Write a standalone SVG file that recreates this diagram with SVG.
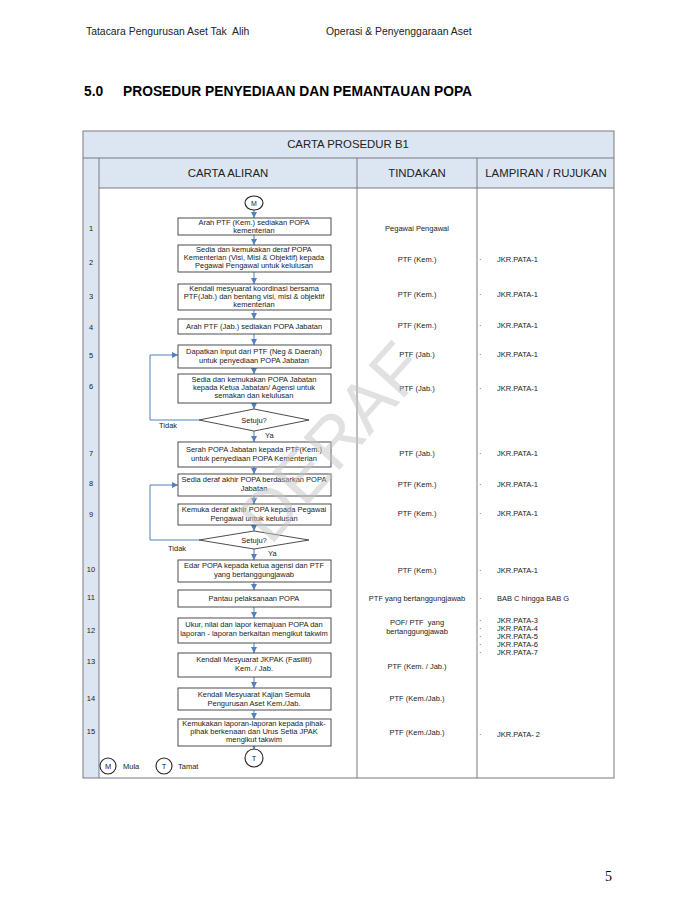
<svg xmlns="http://www.w3.org/2000/svg" width="695" height="899" viewBox="0 0 695 899">
<defs>
<style>
text{font-family:"Liberation Sans",Arial,sans-serif;fill:#222}
.hdr{font-size:10.4px}
.ttl{font-size:13.8px;font-weight:bold;fill:#000}
.th{font-size:11.4px;text-anchor:middle}
.bx{fill:#fff;stroke:#3a3a3a;stroke-width:0.9}
.bt{font-size:7.5px;text-anchor:middle}
.num{font-size:7.5px;text-anchor:middle}
.col{font-size:7.5px}
.colc{font-size:7.5px;text-anchor:middle}
.grid{stroke:#7a7a7a;stroke-width:1;fill:none}
.fillb{fill:#dce6f2}
.con{stroke:#4f81bd;stroke-width:1;fill:none;marker-end:url(#ah)}
.lbl{font-size:7.5px}
</style>
<marker id="ah" viewBox="0 0 10 10" refX="10" refY="5" markerWidth="6" markerHeight="6" orient="auto" markerUnits="userSpaceOnUse">
<path d="M0,0 L10,5 L0,10 z" fill="#4f81bd"/>
</marker>
</defs>
<rect width="695" height="899" fill="#fff"/>
<text class="hdr" x="86" y="35" xml:space="preserve">Tatacara Pengurusan Aset Tak  Alih</text>
<text class="hdr" x="326" y="35">Operasi &amp; Penyenggaraan Aset</text>
<text class="ttl" x="84" y="96">5.0</text>
<text class="ttl" x="123" y="96">PROSEDUR PENYEDIAAN DAN PEMANTAUAN POPA</text>

<g id="table">
<rect class="fillb" x="83" y="131" width="531" height="57"/>
<rect class="fillb" x="83" y="188" width="16" height="590"/>
<rect class="grid" x="83" y="131" width="531" height="647"/>
<line class="grid" x1="83" y1="158" x2="614" y2="158"/>
<line class="grid" x1="99" y1="188" x2="614" y2="188"/>
<line class="grid" x1="99" y1="158" x2="99" y2="778"/>
<line class="grid" x1="357" y1="158" x2="357" y2="778"/>
<line class="grid" x1="477" y1="158" x2="477" y2="778"/>
<text class="th" x="348" y="148">CARTA PROSEDUR B1</text>
<text class="th" x="228" y="177">CARTA ALIRAN</text>
<text class="th" x="417" y="177">TINDAKAN</text>
<text class="th" x="546" y="177">LAMPIRAN / RUJUKAN</text>
</g>

<g id="numbers">
<text class="num" x="91" y="231">1</text>
<text class="num" x="91" y="265">2</text>
<text class="num" x="91" y="299">3</text>
<text class="num" x="91" y="330">4</text>
<text class="num" x="91" y="358">5</text>
<text class="num" x="91" y="389">6</text>
<text class="num" x="91" y="456">7</text>
<text class="num" x="91" y="486">8</text>
<text class="num" x="91" y="517">9</text>
<text class="num" x="91" y="572">10</text>
<text class="num" x="91" y="600">11</text>
<text class="num" x="91" y="633">12</text>
<text class="num" x="91" y="664">13</text>
<text class="num" x="91" y="701">14</text>
<text class="num" x="91" y="734">15</text>
</g>

<g id="connectors">
<line class="con" x1="254" y1="210" x2="254" y2="218"/>
<line class="con" x1="254" y1="235" x2="254" y2="245"/>
<line class="con" x1="254" y1="272" x2="254" y2="284"/>
<line class="con" x1="254" y1="310" x2="254" y2="319"/>
<line class="con" x1="254" y1="334" x2="254" y2="345"/>
<line class="con" x1="254" y1="368" x2="254" y2="374"/>
<line class="con" x1="254" y1="403" x2="254" y2="409"/>
<line class="con" x1="254" y1="431" x2="254" y2="442"/>
<line class="con" x1="254" y1="467" x2="254" y2="474"/>
<line class="con" x1="254" y1="496" x2="254" y2="504"/>
<line class="con" x1="254" y1="525" x2="254" y2="531"/>
<line class="con" x1="254" y1="549" x2="254" y2="560"/>
<line class="con" x1="254" y1="582" x2="254" y2="590"/>
<line class="con" x1="254" y1="607" x2="254" y2="618"/>
<line class="con" x1="254" y1="643" x2="254" y2="653"/>
<line class="con" x1="254" y1="677" x2="254" y2="688"/>
<line class="con" x1="254" y1="710" x2="254" y2="719"/>
<line class="con" x1="254" y1="746" x2="254" y2="749"/>
<polyline class="con" points="199,420 150,420 150,355 178,355"/>
<polyline class="con" points="199,540 150,540 150,485 178,485"/>
<text class="lbl" x="159" y="428">Tidak</text>
<text class="lbl" x="265" y="438">Ya</text>
<text class="lbl" x="168" y="551">Tidak</text>
<text class="lbl" x="268" y="556">Ya</text>
</g>

<g id="M">
<ellipse cx="254" cy="203" rx="9" ry="7" fill="#fff" stroke="#222" stroke-width="1.1"/>
<text class="bt" x="254" y="205.5" style="font-size:7px">M</text>
</g>
<g id="n1"><rect class="bx" x="178" y="218" width="153" height="17"/>
<text class="bt" x="254" y="225">Arah PTF (Kem.) sediakan POPA</text>
<text class="bt" x="254" y="233">kementerian</text></g>
<g id="n2"><rect class="bx" x="178" y="245" width="153" height="27"/>
<text class="bt" x="254" y="252">Sedia dan kemukakan deraf POPA</text>
<text class="bt" x="254" y="260">Kementerian (Visi, Misi &amp; Objektif) kepada</text>
<text class="bt" x="254" y="268">Pegawai Pengawal untuk kelulusan</text></g>
<g id="n3"><rect class="bx" x="178" y="284" width="153" height="26"/>
<text class="bt" x="254" y="291">Kendali mesyuarat koordinasi bersama</text>
<text class="bt" x="254" y="299">PTF(Jab.) dan bentang visi, misi &amp; objektif</text>
<text class="bt" x="254" y="307">kementerian</text></g>
<g id="n4"><rect class="bx" x="178" y="319" width="153" height="15"/>
<text class="bt" x="254" y="329">Arah PTF (Jab.) sediakan POPA Jabatan</text></g>
<g id="n5"><rect class="bx" x="178" y="345" width="153" height="23"/>
<text class="bt" x="254" y="354">Dapatkan input dari PTF (Neg &amp; Daerah)</text>
<text class="bt" x="254" y="363">untuk penyediaan POPA Jabatan</text></g>
<g id="n6"><rect class="bx" x="178" y="374" width="153" height="29"/>
<text class="bt" x="254" y="382">Sedia dan kemukakan POPA Jabatan</text>
<text class="bt" x="254" y="390">kepada Ketua Jabatan/ Agensi untuk</text>
<text class="bt" x="254" y="398">semakan dan kelulusan</text></g>
<g id="d1"><polygon class="bx" points="199,420 254,409 309,420 254,431"/>
<text class="bt" x="254" y="422.5">Setuju?</text></g>
<g id="n7"><rect class="bx" x="178" y="442" width="153" height="25"/>
<text class="bt" x="254" y="452">Serah POPA Jabatan kepada PTF(Kem.)</text>
<text class="bt" x="254" y="461">untuk penyediaan POPA Kementerian</text></g>
<g id="n8"><rect class="bx" x="178" y="474" width="153" height="22"/>
<text class="bt" x="254" y="482">Sedia deraf akhir POPA berdasarkan POPA</text>
<text class="bt" x="254" y="491">Jabatan</text></g>
<g id="n9"><rect class="bx" x="178" y="504" width="153" height="21"/>
<text class="bt" x="254" y="512">Kemuka deraf akhir POPA kepada Pegawai</text>
<text class="bt" x="254" y="521">Pengawal untuk kelulusan</text></g>
<g id="d2"><polygon class="bx" points="199,540 254,531 309,540 254,549"/>
<text class="bt" x="254" y="542.5">Setuju?</text></g>
<g id="n10"><rect class="bx" x="178" y="560" width="153" height="22"/>
<text class="bt" x="254" y="568">Edar POPA kepada ketua agensi dan PTF</text>
<text class="bt" x="254" y="577">yang bertanggungjawab</text></g>
<g id="n11"><rect class="bx" x="178" y="590" width="153" height="17"/>
<text class="bt" x="254" y="601">Pantau pelaksanaan POPA</text></g>
<g id="n12"><rect class="bx" x="178" y="618" width="153" height="25"/>
<text class="bt" x="254" y="627">Ukur, nilai dan lapor kemajuan POPA dan</text>
<text class="bt" x="254" y="636">laporan - laporan berkaitan mengikut takwim</text></g>
<g id="n13"><rect class="bx" x="178" y="653" width="153" height="24"/>
<text class="bt" x="254" y="662">Kendali Mesyuarat JKPAK (Fasiliti)</text>
<text class="bt" x="254" y="671">Kem. / Jab.</text></g>
<g id="n14"><rect class="bx" x="178" y="688" width="153" height="22"/>
<text class="bt" x="254" y="697">Kendali Mesyuarat Kajian Semula</text>
<text class="bt" x="254" y="706">Pengurusan Aset Kem./Jab.</text></g>
<g id="n15"><rect class="bx" x="178" y="719" width="153" height="27"/>
<text class="bt" x="254" y="726">Kemukakan laporan-laporan kepada pihak-</text>
<text class="bt" x="254" y="734">pihak berkenaan dan Urus Setia JPAK</text>
<text class="bt" x="254" y="742">mengikut takwim</text></g>
<g id="T">
<ellipse cx="254" cy="758" rx="9" ry="9" fill="#fff" stroke="#222" stroke-width="1.1"/>
<text class="bt" x="254" y="760.5">T</text>
</g>
<g id="legend">
<ellipse cx="108" cy="766" rx="8" ry="8" fill="#fff" stroke="#222" stroke-width="1.1"/>
<text class="bt" x="108" y="768.5">M</text>
<text class="lbl" x="123" y="769">Mula</text>
<ellipse cx="164" cy="766" rx="8" ry="8" fill="#fff" stroke="#222" stroke-width="1.1"/>
<text class="bt" x="164" y="768.5">T</text>
<text class="lbl" x="178" y="769">Tamat</text>
</g>

<g id="tindakan">
<text class="colc" x="417" y="231">Pegawai Pengawal</text>
<text class="colc" x="417" y="262">PTF (Kem.)</text>
<text class="colc" x="417" y="297">PTF (Kem.)</text>
<text class="colc" x="417" y="328">PTF (Kem.)</text>
<text class="colc" x="417" y="357">PTF (Jab.)</text>
<text class="colc" x="417" y="391">PTF (Jab.)</text>
<text class="colc" x="417" y="456">PTF (Jab.)</text>
<text class="colc" x="417" y="487">PTF (Kem.)</text>
<text class="colc" x="417" y="516">PTF (Kem.)</text>
<text class="colc" x="417" y="573">PTF (Kem.)</text>
<text class="colc" x="417" y="601">PTF yang bertanggungjawab</text>
<text class="colc" x="417" y="625" xml:space="preserve">POF/ PTF  yang</text>
<text class="colc" x="417" y="634">bertanggungjawab</text>
<text class="colc" x="417" y="669">PTF (Kem. / Jab.)</text>
<text class="colc" x="417" y="701">PTF (Kem./Jab.)</text>
<text class="colc" x="417" y="735">PTF (Kem./Jab.)</text>
</g>

<g id="lampiran">
<text class="col" x="479" y="262">·</text><text class="col" x="497" y="262">JKR.PATA-1</text>
<text class="col" x="479" y="297">·</text><text class="col" x="497" y="297">JKR.PATA-1</text>
<text class="col" x="479" y="328">·</text><text class="col" x="497" y="328">JKR.PATA-1</text>
<text class="col" x="479" y="357">·</text><text class="col" x="497" y="357">JKR.PATA-1</text>
<text class="col" x="479" y="391">·</text><text class="col" x="497" y="391">JKR.PATA-1</text>
<text class="col" x="479" y="456">·</text><text class="col" x="497" y="456">JKR.PATA-1</text>
<text class="col" x="479" y="487">·</text><text class="col" x="497" y="487">JKR.PATA-1</text>
<text class="col" x="479" y="516">·</text><text class="col" x="497" y="516">JKR.PATA-1</text>
<text class="col" x="479" y="573">·</text><text class="col" x="497" y="573">JKR.PATA-1</text>
<text class="col" x="479" y="601">·</text><text class="col" x="497" y="601">BAB C hingga BAB G</text>
<text class="col" x="479" y="623">·</text><text class="col" x="497" y="623">JKR.PATA-3</text>
<text class="col" x="479" y="631">·</text><text class="col" x="497" y="631">JKR.PATA-4</text>
<text class="col" x="479" y="639">·</text><text class="col" x="497" y="639">JKR.PATA-5</text>
<text class="col" x="479" y="647">·</text><text class="col" x="497" y="647">JKR.PATA-6</text>
<text class="col" x="479" y="655">·</text><text class="col" x="497" y="655">JKR.PATA-7</text>
<text class="col" x="479" y="737">·</text><text class="col" x="497" y="737">JKR.PATA- 2</text>
</g>

<text x="332" y="466" transform="rotate(-48 332 442)" text-anchor="middle" style="font-size:70px;fill:#c4c4c4;fill-opacity:0.5;font-family:'Liberation Sans',Arial,sans-serif">DERAF</text>

<text x="605" y="881" style="font-family:'Liberation Serif','Times New Roman',serif;font-size:14px;fill:#000">5</text>
</svg>
